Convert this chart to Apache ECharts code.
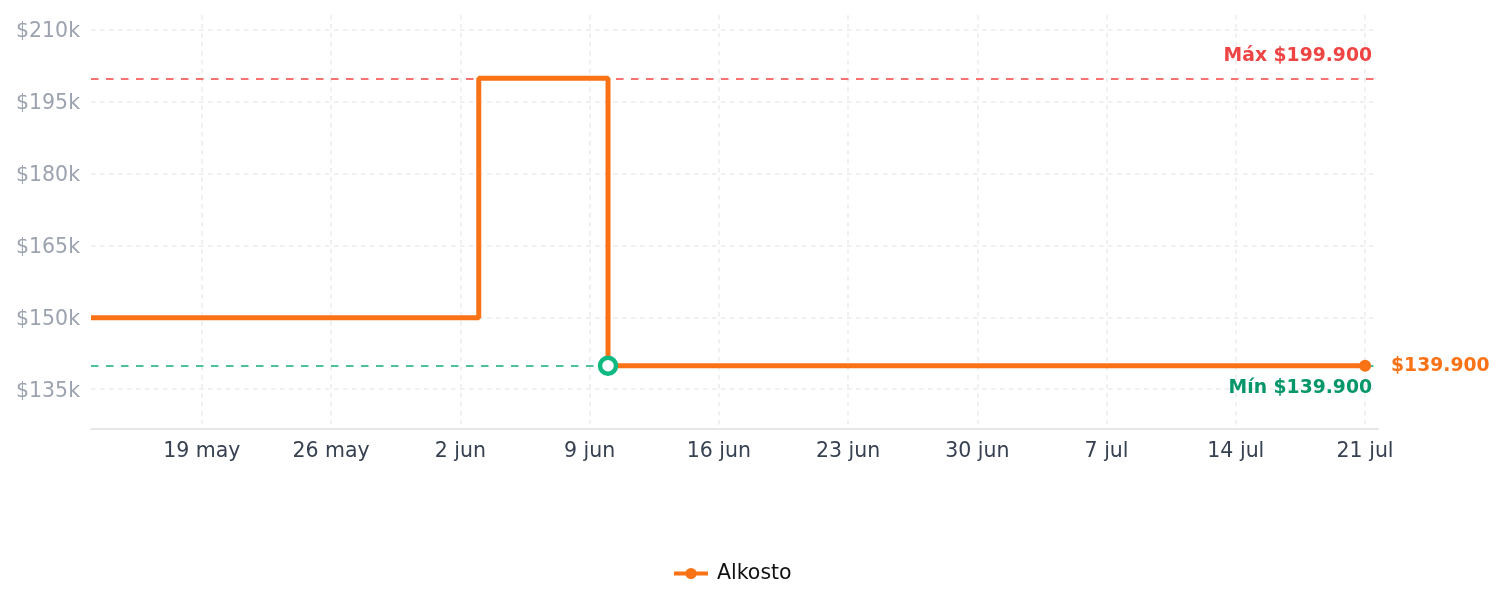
<!DOCTYPE html>
<html>
<head>
<meta charset="utf-8">
<script src="https://cdn.jsdelivr.net/npm/echarts@6/dist/echarts.min.js"></script>
<style>
  html, body { margin: 0; padding: 0; background: #fff; }
  #chart { width: 1505px; height: 607px; }
</style>
</head>
<body>
<div id="chart"></div>
<script>
// fechas de cambio de precio y precios (Alkosto)
var fechas = ['2025-05-13', '2025-06-03', '2025-06-10', '2025-07-21'];
var precios = [149900, 199900, 139900, 139900];

// ticks del eje x (dias desde el 19 may) y sus etiquetas
var ticksX = [0, 7, 14, 21, 28, 35, 42, 49, 56, 63];
var etiquetasX = ['19 may', '26 may', '2 jun', '9 jun', '16 jun', '23 jun', '30 jun', '7 jul', '14 jul', '21 jul'];

// ticks del eje y
var ticksY = [135000, 150000, 165000, 180000, 195000, 210000];
var etiquetasY = ['$135k', '$150k', '$165k', '$180k', '$195k', '$210k'];

var precioMax = 199900;
var precioMin = 139900;

var origen = Date.UTC(2025, 4, 19);
function dias(f) {
  var p = f.split('-');
  return (Date.UTC(+p[0], +p[1] - 1, +p[2]) - origen) / 86400000;
}
function fmt(v) {
  return '$' + v.toString().replace(/\B(?=(\d{3})+(?!\d))/g, '.');
}

var datos = fechas.map(function (f, i) {
  var item = { value: [dias(f), precios[i]] };
  if (i == fechas.length - 1) {
    item.symbol = 'circle';
    item.symbolSize = 12;
    item.label = {
      show: true, position: 'right', distance: 20,
      formatter: fmt(precios[i]),
      color: '#f97316', fontWeight: 'bold', fontSize: 18.75
    };
  } else if (precios[i] == precioMin) {
    item.symbol = 'circle';
    item.symbolSize = 16;
    item.itemStyle = { color: '#fff', borderColor: '#10b981', borderWidth: 4.5 };
  } else {
    item.symbol = 'none';
  }
  return item;
});

var myChart = echarts.init(document.getElementById('chart'));
var option = {
  animation: false,
  textStyle: { fontFamily: 'DejaVu Sans' },
  grid: { left: 91, right: 127, top: 15, bottom: 178 },
  legend: {
    bottom: 18,
    left: 667,
    itemWidth: 34,
    itemHeight: 14,
    itemGap: 10,
    lineStyle: { width: 4 },
    textStyle: { fontSize: 20.5, color: '#111', padding: [0, 0, 0, 4] },
    data: ['Alkosto']
  },
  xAxis: {
    type: 'value',
    min: -6,
    max: 63.7,
    axisLine: { lineStyle: { color: '#e5e7eb', width: 2 } },
    axisTick: { show: false, customValues: ticksX },
    axisLabel: {
      customValues: ticksX,
      fontSize: 20.5, color: '#374151', margin: 12,
      formatter: function (v) { return etiquetasX[ticksX.indexOf(v)]; }
    },
    splitLine: { show: true, lineStyle: { color: '#f0f0f0', type: [4.5, 4.5], width: 2 } }
  },
  yAxis: {
    type: 'value',
    min: 126700,
    max: 213100,
    axisLine: { show: false },
    axisTick: { show: false, customValues: ticksY },
    axisLabel: {
      customValues: ticksY,
      margin: 11,
      formatter: function (v) { return '{a|' + etiquetasY[ticksY.indexOf(v)] + '}'; },
      rich: { a: { fontSize: 20.5, color: '#9ca3af', padding: [4, 0, 0, 0] } }
    },
    splitLine: { show: true, lineStyle: { color: '#f0f0f0', type: [4.5, 4.5], width: 2 } }
  },
  series: [
    {
      name: 'Alkosto',
      type: 'line',
      step: 'end',
      data: datos,
      symbol: 'circle',
      symbolSize: 12,
      color: '#f97316',
      lineStyle: { width: 5, color: '#f97316' },
      z: 3,
      markLine: {
        silent: true,
        symbol: 'none',
        z: 2,
        data: [
          {
            yAxis: precioMax,
            lineStyle: { color: '#f87171', type: [7.5, 7.5], width: 2 },
            label: {
              position: 'insideEndTop', formatter: 'Máx ' + fmt(precioMax),
              color: '#ef4444', fontWeight: 'bold', fontSize: 18.75, distance: [6, 13]
            }
          },
          {
            yAxis: precioMin,
            lineStyle: { color: '#4cc19a', type: [7.5, 7.5], width: 2 },
            label: {
              position: 'insideEndBottom', formatter: 'Mín ' + fmt(precioMin),
              color: '#059669', fontWeight: 'bold', fontSize: 18.75, distance: [6, 13]
            }
          }
        ]
      }
    }
  ]
};
myChart.setOption(option);
</script>
</body>
</html>
